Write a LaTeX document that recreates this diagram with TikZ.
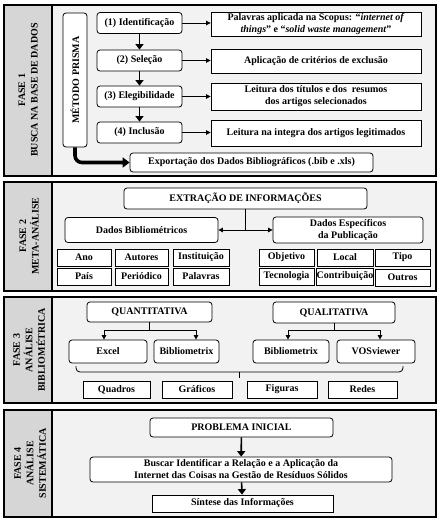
\documentclass[tikz,border=0pt]{standalone}
\usepackage{fontspec}
\setmainfont{Liberation Serif}
\usepackage{graphicx}
\usetikzlibrary{arrows.meta}
\definecolor{bgin}{HTML}{F2F2F2}
\definecolor{bgcol}{HTML}{D6D6D6}
\newcommand\fasebox[2]{%
  \fill[bgin] (4,#1) rectangle (436,#2);
  \fill[bgcol] (4,#1) rectangle (52,#2);
  \draw[framel] (4,#1) rectangle (436,#2);
  \draw[framel] (52,#1) -- (52,#2);}
\tikzset{
  framel/.style={draw=black, line width=2.2pt},
  box/.style={draw=black, line width=0.8pt, fill=white, inner sep=1pt, align=center,
    font=\bfseries\fontsize{10}{12}\selectfont},
  rbox/.style={box, rounded corners=3pt},
  varrow/.style={line width=1.6pt, -{Triangle[length=5.5pt,width=8pt]}},
  harrow/.style={line width=0.7pt, -{Triangle[length=4.5pt,width=4.5pt]}},
  dharrow/.style={line width=0.8pt, {Triangle[length=4.5pt,width=4.5pt]}-{Triangle[length=4.5pt,width=4.5pt]}},
  conn/.style={line width=0.8pt},
  lab/.style={rotate=90, align=center, font=\bfseries\fontsize{10}{12.5}\selectfont},
}
\begin{document}
\begin{tikzpicture}[x=1pt,y=-1pt]
\useasboundingbox (0,0) rectangle (441,520);
% ---------------- FASE 1
\fasebox{5}{176}
\node[lab] (f1) at (28,90) {FASE 1\\BUSCA NA BASE DE DADOS};
\node[rbox, minimum width=24pt, minimum height=134pt] (prisma) at (75,80) {\rotatebox{90}{MÉTODO PRISMA}};
\node[rbox, minimum width=85pt, minimum height=21pt] (s1) at (139.5,23) {(1) Identificação};
\node[rbox, minimum width=85pt, minimum height=21pt] (s2) at (139.5,60.5) {(2) Seleção};
\node[rbox, minimum width=85pt, minimum height=21pt] (s3) at (139.5,96.5) {(3) Elegibilidade};
\node[rbox, minimum width=85pt, minimum height=21pt] (s4) at (139.5,132.5) {(4) Inclusão};
\node[box, minimum width=210pt, minimum height=24pt] (r1) at (316,24) {Palavras aplicada na Scopus: “\textit{internet of}\\\textit{things}” e “\textit{solid waste management}”};
\node[box, minimum width=210pt, minimum height=24pt] (r2) at (316,61) {Aplicação de critérios de exclusão};
\node[box, minimum width=210pt, minimum height=27pt] (r3) at (316,96.5) {Leitura dos títulos e dos\ \ resumos\\dos artigos selecionados};
\node[box, minimum width=210pt, minimum height=26pt] (r4) at (316,133) {Leitura na integra dos artigos legitimados};
\node[rbox, minimum width=243pt, minimum height=19pt] (exp) at (251.5,162.5) {Exportação dos Dados Bibliográficos (.bib e .xls)};
\draw[varrow] (s1) -- (s2);
\draw[varrow] (s2) -- (s3);
\draw[varrow] (s3) -- (s4);
\draw[harrow] (s1.east) -- (s1.east -| r1.west);
\draw[harrow] (s2.east) -- (s2.east -| r2.west);
\draw[harrow] (s3.east) -- (s3.east -| r3.west);
\draw[harrow] (s4.east) -- (s4.east -| r4.west);
\draw[line width=3.6pt, rounded corners=7pt, -{Triangle[length=7pt,width=10pt]}] (prisma.south) |- (exp.west);
% ---------------- FASE 2
\fasebox{182}{291}
\node[lab] (f2) at (29,236) {FASE 2\\META-ANÁLISE};
\node[rbox, minimum width=243pt, minimum height=21pt] (ext) at (245.5,198.5) {EXTRAÇÃO DE INFORMAÇÕES};
\node[rbox, minimum width=153pt, minimum height=25pt] (db) at (141.5,230) {Dados Bibliométricos};
\node[rbox, minimum width=150pt, minimum height=26pt] (de) at (348,230) {Dados Específicos\\da Publicação};
\draw[conn] (ext.south) -- (ext.south |- de.west);
\draw[dharrow] (db.east) -- (de.west);
\node[box, minimum width=54pt, minimum height=17pt] (ano) at (84,257.5) {Ano};
\node[box, minimum width=53pt, minimum height=17pt] (aut) at (141.5,257.5) {Autores};
\node[box, minimum width=56pt, minimum height=17pt] (ins) at (201,257.5) {Instituição};
\node[box, minimum width=54pt, minimum height=17pt] (pai) at (84,276.5) {País};
\node[box, minimum width=53pt, minimum height=17pt] (per) at (141.5,276.5) {Periódico};
\node[box, minimum width=56pt, minimum height=17pt] (pal) at (201,276.5) {Palavras};
\node[box, minimum width=55pt, minimum height=17pt] (obj) at (286.5,257.5) {Objetivo};
\node[box, minimum width=56pt, minimum height=17pt] (loc) at (345,257.5) {Local};
\node[box, minimum width=55pt, minimum height=17pt] (tip) at (402.5,257.5) {Tipo};
\node[box, minimum width=55pt, minimum height=17pt] (tec) at (286.5,276.5) {Tecnologia};
\node[box, minimum width=56pt, minimum height=17pt, inner sep=0pt] (con) at (345,276.5) {Contribuição};
\node[box, minimum width=55pt, minimum height=17pt] (out) at (402.5,277.5) {Outros};
% ---------------- FASE 3
\fasebox{297}{403}
\node[lab] (f3) at (29,350) {FASE 3\\ANÁLISE\\BIBLIOMÉTRICA};
\node[rbox, minimum width=125pt, minimum height=20pt] (quan) at (149.5,312) {QUANTITATIVA};
\node[rbox, minimum width=122pt, minimum height=21pt] (qual) at (334,312.5) {QUALITATIVA};
\node[rbox, minimum width=78pt, minimum height=23pt] (excel) at (108,351.5) {Excel};
\node[rbox, minimum width=65pt, minimum height=23pt] (bib1) at (186.5,351.5) {Bibliometrix};
\node[rbox, minimum width=76pt, minimum height=23pt] (bib2) at (291,351.5) {Bibliometrix};
\node[rbox, minimum width=78pt, minimum height=23pt] (vos) at (376,351.5) {VOSviewer};
\coordinate (qa) at (104,330);
\coordinate (qb) at (196,330);
\coordinate (qc) at (288,330);
\coordinate (qd) at (380,330);
\draw[conn] (quan.south) -- (quan.south |- qa);
\draw[dharrow] (qa |- excel.north) -- (qa) -- (qb) -- (qb |- bib1.north);
\draw[conn] (qual.south) -- (qual.south |- qc);
\draw[dharrow] (qc |- bib2.north) -- (qc) -- (qd) -- (qd |- vos.north);
\coordinate (bl) at (76,366);
\coordinate (br) at (403,366);
\coordinate (bc) at (239,372);
\draw[conn, rounded corners=4pt] (bl) |- (bc) -| (br);
\draw[conn] (bc) -- ++(0,6);
\node[box, minimum width=67pt, minimum height=17pt] (qua) at (116.5,389.5) {Quadros};
\node[box, minimum width=70pt, minimum height=17pt] (gra) at (197,389.5) {Gráficos};
\node[box, minimum width=70pt, minimum height=17pt] (fig) at (282,389.5) {Figuras};
\node[box, minimum width=69pt, minimum height=17pt] (red) at (362.5,389.5) {Redes};
% ---------------- FASE 4
\fasebox{410}{517}
\node[lab] (f4) at (30,463.5) {FASE 4\\ANÁLISE\\SISTEMÁTICA};
\node[rbox, minimum width=183pt, minimum height=19pt] (prob) at (241.5,427.5) {PROBLEMA INICIAL};
\node[rbox, minimum width=302pt, minimum height=25pt] (busc) at (241,469.5) {Buscar Identificar a Relação e a Aplicação da\\Internet das Coisas na Gestão de Resíduos Sólidos};
\node[box, minimum width=181pt, minimum height=17pt] (sint) at (242.5,503.5) {Síntese das Informações};
\draw[varrow] (prob) -- (busc);
\draw[varrow] (busc) -- (sint);
\end{tikzpicture}
\end{document}
